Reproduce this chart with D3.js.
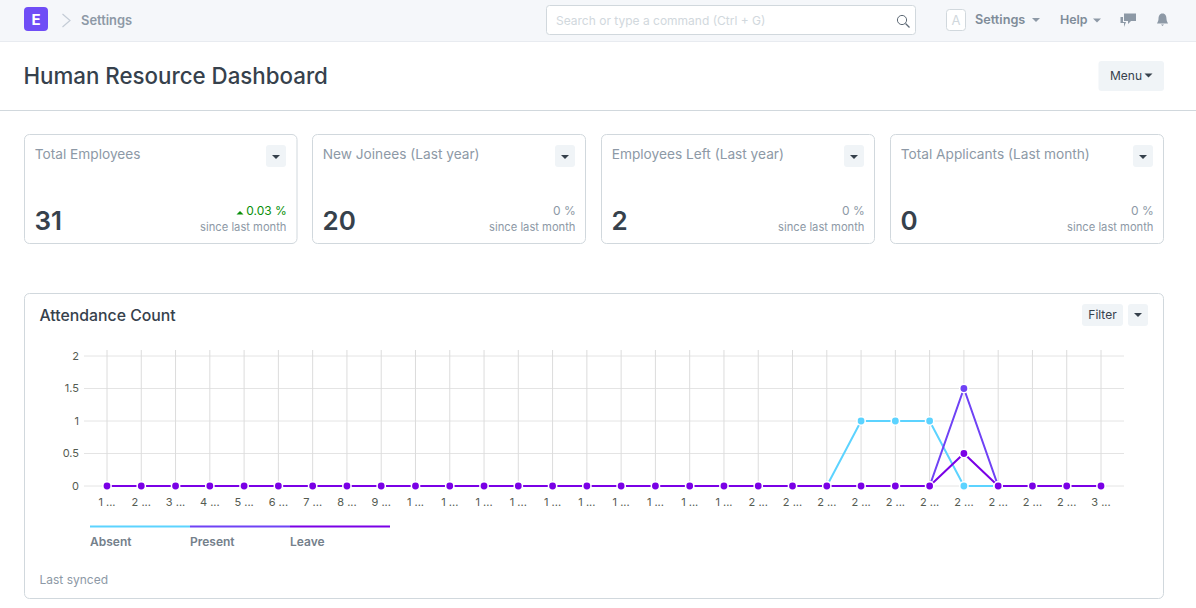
<!DOCTYPE html>
<html><head><meta charset="utf-8">
<script src="https://cdn.jsdelivr.net/npm/d3@7/dist/d3.min.js"></script>
<style>
html,body{margin:0;padding:0;background:#fff;overflow:hidden}
svg{display:block;font-family:Inter,"Noto Sans",sans-serif}
</style></head><body><svg id="c" width="1196" height="608"></svg>
<script>
const tickLabels=["1 ...","2 ...","3 ...","4 ...","5 ...","6 ...","7 ...","8 ...","9 ...",
"1 ...","1 ...","1 ...","1 ...","1 ...","1 ...","1 ...","1 ...","1 ...","1 ...",
"2 ...","2 ...","2 ...","2 ...","2 ...","2 ...","2 ...","2 ...","2 ...","2 ...","3 ..."];
const days=d3.range(1,31);
const absent =[0,0,0,0,0,0,0,0,0,0,0,0,0,0,0,0,0,0,0,0,0,0,1,1,1,0,0,0,0,0];
const present=[0,0,0,0,0,0,0,0,0,0,0,0,0,0,0,0,0,0,0,0,0,0,0,0,0,1.5,0,0,0,0];
const leave  =[0,0,0,0,0,0,0,0,0,0,0,0,0,0,0,0,0,0,0,0,0,0,0,0,0,0.5,0,0,0,0];
const seriesNames=["Absent","Present","Leave"];
const seriesColors=["#5cd3ff","#6f42f5","#7a00e6"];
const yTicks=[0,0.5,1,1.5,2];
const cardTitles=["Total Employees","New Joinees (Last year)","Employees Left (Last year)","Total Applicants (Last month)"];
const cardValues=["31","20","2","0"];
const cardDeltas=["0.03 %","0 %","0 %","0 %"];

const svg=d3.select("#c");
const text=(x,y,s,size,fill,opts={})=>svg.append("text").attr("x",x).attr("y",y).text(s)
  .attr("font-size",size).attr("fill",fill).attr("font-weight",opts.w||400)
  .attr("text-anchor",opts.a||"start");
const rect=(x,y,w,h,r,fill,stroke)=>svg.append("rect").attr("x",x).attr("y",y).attr("width",w).attr("height",h)
  .attr("rx",r).attr("fill",fill).attr("stroke",stroke||"none");
const caret=(cx,cy,c,s=4)=>svg.append("path").attr("d",`M${cx-s},${cy-s/2}L${cx+s},${cy-s/2}L${cx},${cy+s/2}Z`).attr("fill",c);

// navbar
rect(0,0,1196,41.5,0,"#f5f7fa");
svg.append("line").attr("x1",0).attr("x2",1196).attr("y1",41.5).attr("y2",41.5).attr("stroke","#e8ebf0");
rect(24,7,24,24,4,"#6f4df6");
text(36,24.5,"E",15,"#fff",{w:700,a:"middle"});
svg.append("path").attr("d","M62.5,14L70,20.5L62.5,27").attr("fill","none").attr("stroke","#c4ccd6").attr("stroke-width",1.2);
text(81,24.5,"Settings",12.9,"#8d99a6",{w:600});
rect(546.5,5.5,369,29,3,"#fff","#d1d8dd");
text(556,24.5,"Search or type a command (Ctrl + G)",12,"#d1d8dd");
svg.append("circle").attr("cx",902).attr("cy",20).attr("r",4.6).attr("fill","none").attr("stroke","#5e6a76").attr("stroke-width",1);
svg.append("line").attr("x1",905.5).attr("y1",23.5).attr("x2",909.5).attr("y2",27.5).attr("stroke","#5e6a76").attr("stroke-width",1.2);
rect(946.5,9.5,19,21,3,"#fff","#d1d8dd");
text(956,25,"A",13,"#d1d8dd",{a:"middle"});
text(975,24,"Settings",12.7,"#7f8c99",{w:600});
caret(1036,20,"#8d99a6",4);
text(1060,24,"Help",12.4,"#7f8c99",{w:600});
caret(1097,20.5,"#8d99a6",4);
svg.append("path").attr("d","M1124,13.5H1136V21H1131L1128,24V21H1124Z M1120.5,17H1123V22H1126L1124,27V23H1120.5Z").attr("fill","#8d99a6");
svg.append("path").attr("d","M1162.5,13.5C1165.5,13.5 1166.5,16 1166.5,19C1166.5,21 1167.5,22 1168,23.5H1157C1157.5,22 1158.5,21 1158.5,19C1158.5,16 1159.5,13.5 1162.5,13.5Z M1161,24.5H1164L1162.5,26Z").attr("fill","#8d99a6");

// header
text(23.5,84,"Human Resource Dashboard",22.3,"#36414c",{w:500});
rect(1098.5,61,65.5,30,3,"#f0f4f7");
text(1110,80,"Menu",12,"#36414c");
caret(1148.5,75.5,"#36414c",4);
svg.append("line").attr("x1",0).attr("x2",1196).attr("y1",110.5).attr("y2",110.5).attr("stroke","#d1d8dd");

// number cards
const cardX=[24.5,312.5,601.5,890.5],cardW=272.5;
cardTitles.forEach((t,i)=>{
  const x=cardX[i], d=i==0?0:1;
  rect(x,134.5,i==0?cardW:273,109,5,"#fff","#d1d8dd");
  text(x+10.2,159,t,13.7,"#8d99a6");
  rect(x+241.5+d,145,20,22,3,"#f0f4f7");
  caret(x+251.5+d,157,"#36414c",4);
  text(x+10,230,cardValues[i],26,"#36414c",{w:600});
  const g=i==0;
  text(x+262.3+d,215,cardDeltas[i],12,g?"#0a8f0a":"#8d99a6",{a:"end"});
  if(g) svg.append("path").attr("d",`M${x+212},214.5L${x+219},214.5L${x+215.5},211Z`).attr("fill","#0a8f0a");
  text(x+262+d,231,"since last month",11.2,"#8d99a6",{a:"end"});
});

// chart card
rect(24.5,293.5,1139,305,5,"#fff","#d1d8dd");
text(39.5,321,"Attendance Count",15.8,"#36414c",{w:500});
rect(1082,304,41,22,3,"#f0f4f7");
text(1102.5,319,"Filter",12,"#36414c",{a:"middle"});
rect(1128,304,20,22,3,"#f0f4f7");
caret(1138,315,"#36414c",4);

const x=d3.scalePoint().domain(days).range([107,1101]);
const y=d3.scaleLinear().domain([0,2]).range([486,356]);

const gy=svg.append("g").attr("transform","translate(84,0)")
  .call(d3.axisLeft(y).offset(0).tickValues(yTicks).tickFormat(d3.format("~g")).tickSize(-1040).tickPadding(5));
gy.select(".domain").remove();
gy.selectAll("line").attr("stroke","#e4e4e4");
gy.selectAll("text").attr("font-size",11).attr("fill","#555b51").attr("font-family","Inter");

const gx=svg.append("g").attr("transform","translate(0,491)")
  .call(d3.axisBottom(x).offset(0).tickFormat((d,i)=>tickLabels[i]).tickSize(-141).tickPadding(7));
gx.select(".domain").remove();
gx.selectAll("line").attr("stroke","#dcdcdc");
gx.selectAll("text").attr("font-size",11).attr("fill","#555b51").attr("font-family","Inter");

const line=d3.line().x((d,i)=>x(days[i])).y(d=>y(d));
[absent,present,leave].forEach((vals,k)=>{
  svg.append("path").datum(vals).attr("d",line).attr("fill","none")
    .attr("stroke",seriesColors[k]).attr("stroke-width",2);
  svg.append("g").selectAll("circle").data(vals).join("circle")
    .attr("cx",(d,i)=>x(days[i])).attr("cy",d=>y(d)).attr("r",3.4)
    .attr("fill",seriesColors[k]).attr("stroke","#fff").attr("stroke-width",3)
    .attr("paint-order","stroke");
});

// legend
const lx=d3.scaleOrdinal().domain(seriesNames).range([90,190,290]);
seriesNames.forEach((n,k)=>{
  svg.append("line").attr("x1",lx(n)).attr("x2",lx(n)+100).attr("y1",526.5).attr("y2",526.5)
    .attr("stroke",seriesColors[k]).attr("stroke-width",2);
  text(lx(n),546,n,12,"#74808b",{w:600});
});
text(39.5,584,"Last synced",12,"#8d99a6");
</script></body></html>
